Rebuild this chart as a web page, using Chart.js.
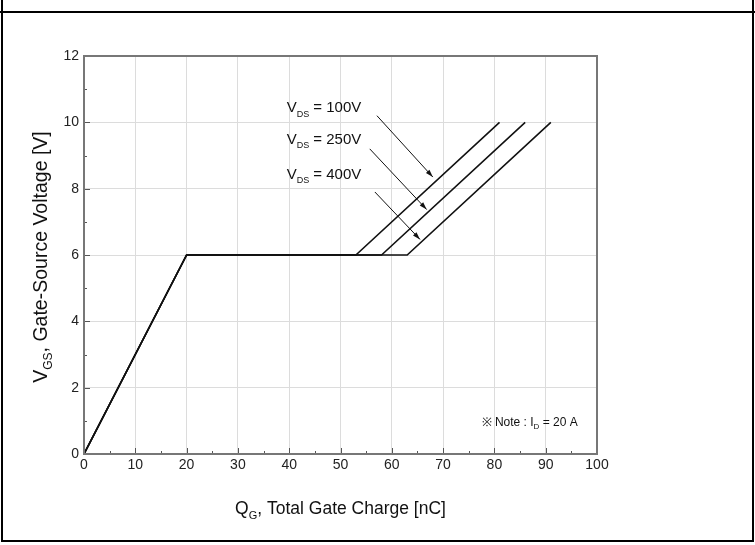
<!DOCTYPE html>
<html>
<head>
<meta charset="utf-8">
<script src="https://cdn.jsdelivr.net/npm/chart.js@4"></script>
<style>
  html, body { margin: 0; padding: 0; background: #fff; }
  #wrap { position: relative; width: 755px; height: 545px; }
  #frame { position: absolute; left: 1px; top: 0; width: 749px; height: 540px;
           border-left: 2px solid #000; border-right: 2px solid #000; border-bottom: 2px solid #000; }
  #topline { position: absolute; left: 0; top: 11px; width: 755px; height: 2px; background: #000; }
  canvas { position: absolute; left: 0; top: 0; }
</style>
</head>
<body>
<div id="wrap">
  <div id="frame"></div>
  <div id="topline"></div>
  <canvas id="chart1" width="755" height="545"></canvas>
</div>
<script>
// Gate charge curves
const xTickLabels = [0, 10, 20, 30, 40, 50, 60, 70, 80, 90, 100]
const yTickLabels = [0, 2, 4, 6, 8, 10, 12]

const charge100 = [0, 20, 53, 81]
const volts100 = [0, 6, 6, 10]
const charge250 = [0, 20, 58, 86]
const volts250 = [0, 6, 6, 10]
const charge400 = [0, 20, 63, 91]
const volts400 = [0, 6, 6, 10]

// label text and arrow ends (data units)
const labels = ['100V', '250V', '400V']
const labelPos = [[39.5, 10.3], [39.5, 9.35], [39.5, 8.3]]
const arrowFrom = [[57.1, 10.2], [55.7, 9.2], [56.7, 7.9]]
const arrowTo = [[68.0, 8.35], [66.8, 7.37], [65.5, 6.47]]

const pts = (xs, ys) => xs.map((x, i) => ({ x: x, y: ys[i] }))

const FONT = "'Liberation Sans Narrow', 'Liberation Sans', Arial, sans-serif"

const lineStyle = {
    borderColor: '#111',
    borderWidth: 1.6,
    pointRadius: 0,
    fill: false,
    tension: 0,
}

// draws "main + sub + rest" starting at x
function subText(c, x, y, main, sub, rest, big, small) {
    c.font = big + 'px ' + FONT
    c.fillText(main, x, y)
    let w = c.measureText(main).width
    c.font = small + 'px ' + FONT
    c.fillText(sub, x + w, y + big * 0.28)
    w += c.measureText(sub).width
    c.font = big + 'px ' + FONT
    c.fillText(rest, x + w, y)
}

function subWidth(c, main, sub, rest, big, small) {
    c.font = big + 'px ' + FONT
    let w = c.measureText(main).width + c.measureText(rest).width
    c.font = small + 'px ' + FONT
    return w + c.measureText(sub).width
}

const extras = {
    id: 'extras',
    beforeDatasetsDraw(chart) {
        const c = chart.ctx
        const xs = chart.scales.x
        const ys = chart.scales.y
        const a = chart.chartArea
        c.save()
        c.strokeStyle = '#555'
        c.lineWidth = 1
        // inner ticks on bottom axis
        for (let v = 0; v <= 100; v += 5) {
            const px = Math.round(xs.getPixelForValue(v)) + 0.5
            const len = v % 10 === 0 ? 6 : 3
            c.beginPath()
            c.moveTo(px, a.bottom)
            c.lineTo(px, a.bottom - len)
            c.stroke()
        }
        // inner ticks on left axis
        for (let v = 0; v <= 12; v += 1) {
            const py = Math.round(ys.getPixelForValue(v)) + 0.5
            const len = v % 2 === 0 ? 6 : 3
            c.beginPath()
            c.moveTo(a.left, py)
            c.lineTo(a.left + len, py)
            c.stroke()
        }
        c.restore()
    },
    afterDatasetsDraw(chart) {
        const c = chart.ctx
        const xs = chart.scales.x
        const ys = chart.scales.y
        const a = chart.chartArea
        c.save()
        c.fillStyle = '#111'
        c.strokeStyle = '#111'
        c.textBaseline = 'alphabetic'
        // VDS labels
        labels.forEach((t, i) => {
            const px = xs.getPixelForValue(labelPos[i][0])
            const py = ys.getPixelForValue(labelPos[i][1])
            subText(c, px, py, 'V', 'DS', ' = ' + t, 15, 9)
        })
        // arrows
        c.lineWidth = 1
        arrowFrom.forEach((f, i) => {
            const x1 = xs.getPixelForValue(f[0])
            const y1 = ys.getPixelForValue(f[1])
            const x2 = xs.getPixelForValue(arrowTo[i][0])
            const y2 = ys.getPixelForValue(arrowTo[i][1])
            c.beginPath()
            c.moveTo(x1, y1)
            c.lineTo(x2, y2)
            c.stroke()
            const ang = Math.atan2(y2 - y1, x2 - x1)
            const h = 8
            c.beginPath()
            c.moveTo(x2, y2)
            c.lineTo(x2 - h * Math.cos(ang - 0.3), y2 - h * Math.sin(ang - 0.3))
            c.lineTo(x2 - h * Math.cos(ang + 0.3), y2 - h * Math.sin(ang + 0.3))
            c.closePath()
            c.fill()
        })
        // note
        const nx = xs.getPixelForValue(77.5)
        const ny = ys.getPixelForValue(0.85)
        subText(c, nx, ny, '\u203B Note : I', 'D', ' = 20 A', 12, 8)

        // axis titles with subscripts
        const xt = ['Q', 'G', ', Total Gate Charge [nC]', 17.5, 11]
        const wx = subWidth(c, ...xt)
        subText(c, (a.left + a.right) / 2 - wx / 2, 514, ...xt)

        const yt = ['V', 'GS', ', Gate-Source Voltage [V]', 19.5, 12]
        const wy = subWidth(c, ...yt)
        c.translate(47, (a.top + a.bottom) / 2 + 2)
        c.rotate(-Math.PI / 2)
        subText(c, -wy / 2, 0, ...yt)
        c.restore()
    },
}

const chart1 = new Chart(document.getElementById('chart1'), {
    type: 'line',
    data: {
        datasets: [
            Object.assign({ label: 'VDS = 100V', data: pts(charge100, volts100) }, lineStyle),
            Object.assign({ label: 'VDS = 250V', data: pts(charge250, volts250) }, lineStyle),
            Object.assign({ label: 'VDS = 400V', data: pts(charge400, volts400) }, lineStyle),
        ],
    },
    options: {
        responsive: false,
        animation: false,
        layout: { padding: { left: 0, right: 158, top: 56, bottom: 0 } },
        plugins: { legend: { display: false }, tooltip: { enabled: false } },
        scales: {
            x: {
                type: 'linear',
                min: 0,
                max: 100,
                afterFit: (s) => { s.height = 91 },
                afterBuildTicks: (s) => { s.ticks = xTickLabels.map((v) => ({ value: v })) },
                ticks: { color: '#222', font: { size: 14, family: FONT }, padding: 3 },
                grid: { color: '#dcdcdc', lineWidth: 1, drawTicks: false },
                border: { color: '#777', width: 2 },
            },
            y: {
                type: 'linear',
                min: 0,
                max: 12,
                afterFit: (s) => { s.width = 84 },
                afterBuildTicks: (s) => { s.ticks = yTickLabels.map((v) => ({ value: v })) },
                ticks: { color: '#222', font: { size: 14, family: FONT }, padding: 5 },
                grid: { color: '#dcdcdc', lineWidth: 1, drawTicks: false },
                border: { color: '#777', width: 2 },
            },
        },
    },
    plugins: [
        extras,
        {
            id: 'box',
            afterDraw(chart) {
                const a = chart.chartArea
                const c = chart.ctx
                c.save()
                c.strokeStyle = '#777'
                c.lineWidth = 2
                c.strokeRect(a.left, a.top, a.right - a.left, a.bottom - a.top)
                c.restore()
            },
        },
    ],
})
</script>
</body>
</html>
